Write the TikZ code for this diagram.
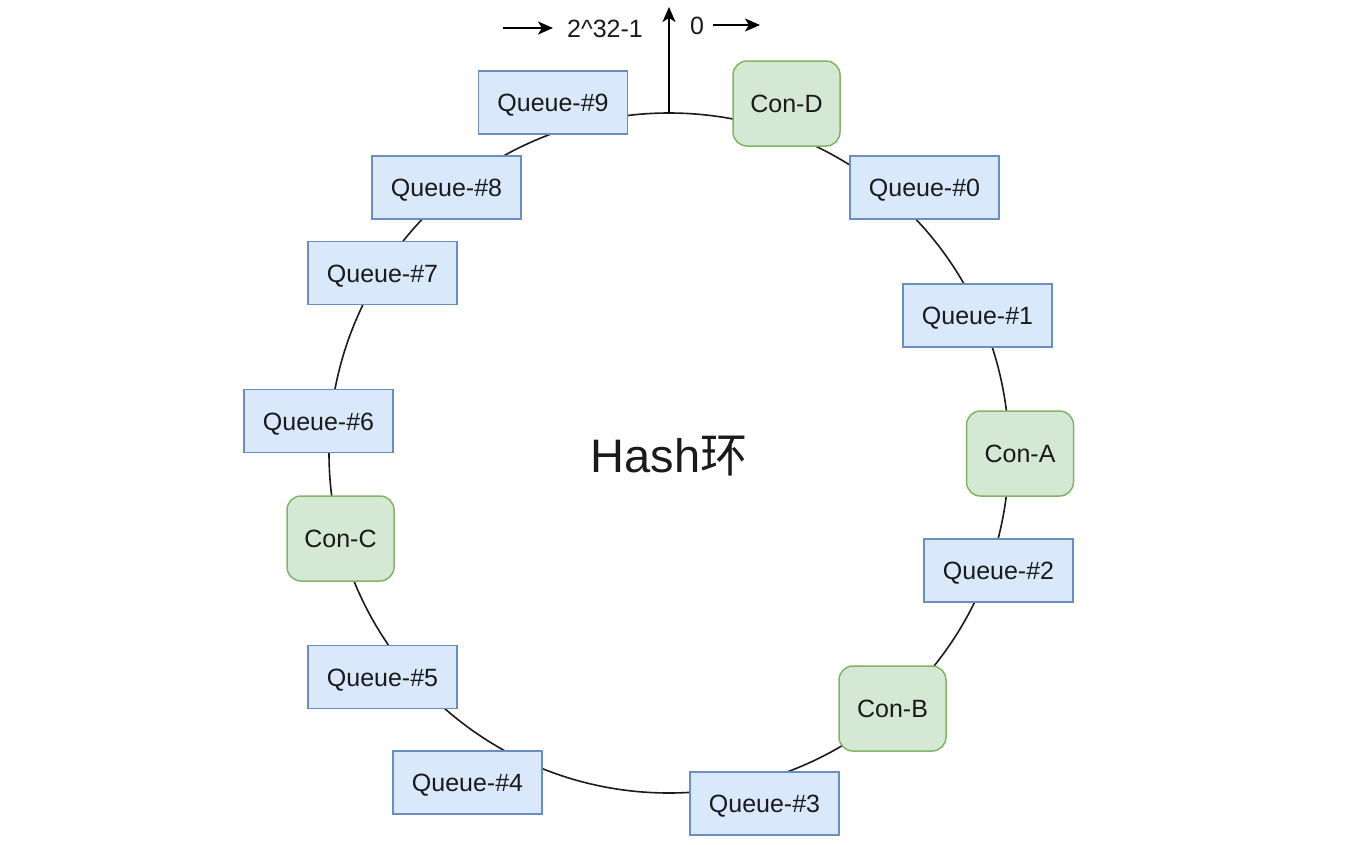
\documentclass[tikz,border=0pt]{standalone}
\usepackage{fontspec}
\setmainfont{Liberation Sans}
\newfontfamily\cjk{Noto Sans CJK SC}
\usetikzlibrary{arrows.meta}
\definecolor{qfill}{HTML}{DAE8FC}
\definecolor{qline}{HTML}{6C8EBF}
\definecolor{cfill}{HTML}{D5E8D4}
\definecolor{cline}{HTML}{82B366}
\definecolor{txt}{HTML}{1A1A1A}
\tikzset{
  queue/.style={draw=qline, fill=qfill, line width=1.5pt, minimum width=149pt, minimum height=63pt, inner sep=0pt, text height=18pt, text depth=0pt, text=txt, font=\fontsize{25}{30}\selectfont},
  con/.style={draw=cline, fill=cfill, line width=1.5pt, rounded corners=14pt, minimum width=107pt, minimum height=85pt, inner sep=0pt, text height=18pt, text depth=0pt, text=txt, font=\fontsize{25}{30}\selectfont},
  lbl/.style={inner sep=0pt, text height=18pt, text depth=0pt, text=txt, font=\fontsize{25}{30}\selectfont},
  ring/.style={line width=1.6pt, draw=txt},
  arr/.style={line width=2pt, draw=black, -{Stealth[length=15pt,width=13pt,inset=4pt]}}
}
\begin{document}
\begin{tikzpicture}[x=1pt,y=-1pt]
\useasboundingbox (0,0) rectangle (1366,844);
\coordinate (c) at (669,453);
\draw[ring] (c) circle[radius=340pt];
% top markers
\coordinate (top) at (669,113);
\coordinate (topend) at (669,7);
\draw[arr] (top) -- (topend);
\coordinate (la) at (503,28);
\coordinate (lb) at (553,28);
\draw[arr] (la) -- (lb);
\node[lbl] (max) at (605,28) {2\^{}32-1};
\node[lbl] (zero) at (697,25) {0};
\coordinate (ra) at (713,25);
\coordinate (rb) at (760,25);
\draw[arr] (ra) -- (rb);
% nodes
\node[queue] (q9) at (553,102.5) {Queue-\#9};
\node[con]   (cd) at (786.5,103.5) {Con-D};
\node[queue] (q0) at (924.5,187.5) {Queue-\#0};
\node[queue] (q8) at (446.5,187.5) {Queue-\#8};
\node[queue] (q7) at (382.5,273) {Queue-\#7};
\node[queue] (q1) at (977.5,315.5) {Queue-\#1};
\node[queue] (q6) at (318.5,421) {Queue-\#6};
\node[con]   (ca) at (1020,453.5) {Con-A};
\node[con]   (cc) at (340.5,538.5) {Con-C};
\node[queue] (q2) at (998.5,570.5) {Queue-\#2};
\node[queue] (q5) at (382.5,677) {Queue-\#5};
\node[con]   (cb) at (892.5,708.5) {Con-B};
\node[queue] (q4) at (467.5,782.5) {Queue-\#4};
\node[queue] (q3) at (764.5,803.5) {Queue-\#3};
\node[inner sep=0pt, text=txt, font=\fontsize{47}{56}\selectfont] (hash) at (669,456) {Hash{\cjk 环}};
\end{tikzpicture}
\end{document}
